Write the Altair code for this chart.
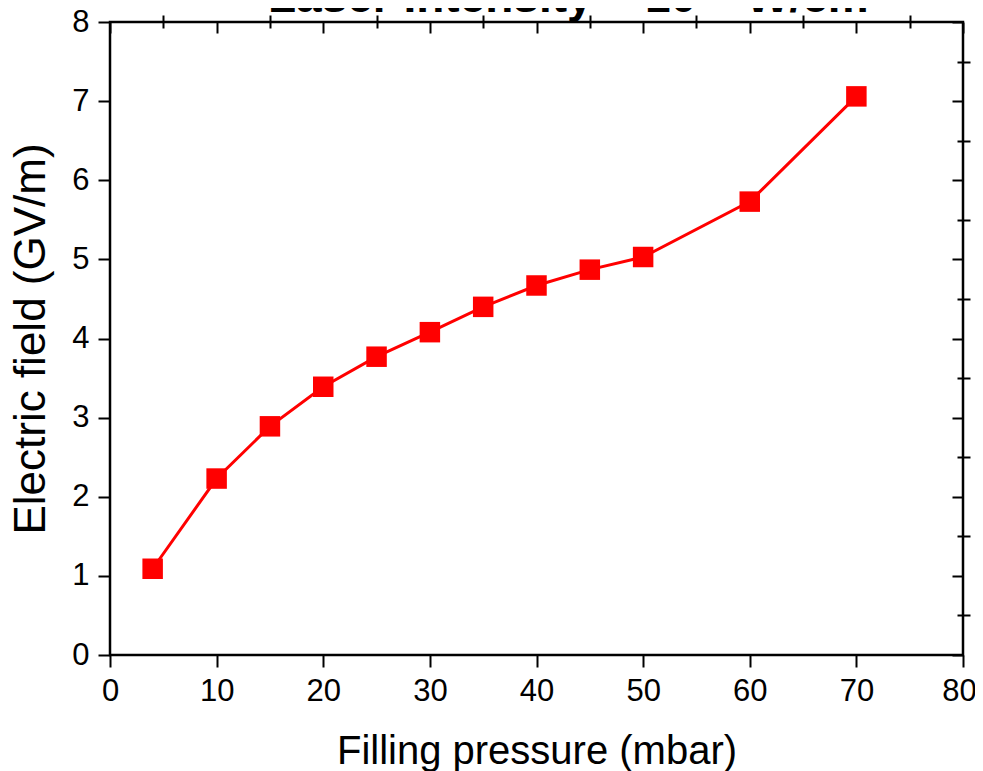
import altair as alt
import pandas as pd

pressure = [4, 10, 15, 20, 25, 30, 35, 40, 45, 50, 60, 70]
field = [1.09, 2.23, 2.89, 3.39, 3.77, 4.08, 4.40, 4.67, 4.87, 5.03, 5.73, 7.06]

x_major = [0, 10, 20, 30, 40, 50, 60, 70, 80]
x_minor = [5, 15, 25, 35, 45, 55, 65, 75]
y_major = [0, 1, 2, 3, 4, 5, 6, 7, 8]
y_minor = [0.5, 1.5, 2.5, 3.5, 4.5, 5.5, 6.5, 7.5]

title_text = "Laser Intensity ~ 10¹⁸ W/cm²"

df = pd.DataFrame({"p": pressure, "e": field})

FONT = "Liberation Sans"
W, H = 853, 633

xs = alt.Scale(domain=[0, 80], nice=False, zero=False)
ys = alt.Scale(domain=[0, 8], nice=False, zero=False)

def axis_kw(**kw):
    base = dict(domain=False, grid=False, tickColor="black", tickWidth=2,
                labelFont=FONT, titleFont=FONT, labelColor="black", titleColor="black",
                titleFontWeight="normal", labelFlush=False)
    base.update(kw)
    return base

line = alt.Chart(df).mark_line(color="#FF0000", strokeWidth=3).encode(
    x=alt.X("p:Q", scale=xs, axis=alt.Axis(**axis_kw(
        values=x_major, format="d", tickSize=12, labelFontSize=31, labelPadding=9,
        labelOffset=alt.condition("datum.value == 80", alt.value(-4), alt.value(0)),
        title="Filling pressure (mbar)", titleFontSize=40, titlePadding=25))),
    y=alt.Y("e:Q", scale=ys, axis=alt.Axis(**axis_kw(
        values=y_major, format="d", tickSize=12, labelFontSize=31, labelPadding=9,
        title="Electric field (GV/m)", titleFontSize=44, titlePadding=18))),
)

points = alt.Chart(df).mark_point(shape="square", filled=True, size=420,
                                  color="#FF0000", opacity=1).encode(
    x=alt.X("p:Q", scale=xs, axis=None),
    y=alt.Y("e:Q", scale=ys, axis=None),
)

minor_bl = alt.Chart(df).mark_point(opacity=0).encode(
    x=alt.X("p:Q", scale=xs, axis=alt.Axis(**axis_kw(values=x_minor, tickSize=7,
                                                      labels=False, title=None))),
    y=alt.Y("e:Q", scale=ys, axis=alt.Axis(**axis_kw(values=y_minor, tickSize=7,
                                                      labels=False, title=None))),
)

top_major = alt.Chart(df).mark_point(opacity=0).encode(
    x=alt.X("p:Q", scale=xs, axis=alt.Axis(**axis_kw(orient="top", values=x_major, tickSize=11,
                                                      offset=-11, labels=False, title=None))),
    y=alt.Y("e:Q", scale=ys, axis=alt.Axis(**axis_kw(orient="right", values=y_major, tickSize=11,
                                                      offset=-11, labels=False, title=None))),
)
top_minor = alt.Chart(df).mark_point(opacity=0).encode(
    x=alt.X("p:Q", scale=xs, axis=alt.Axis(**axis_kw(orient="top", values=x_minor, tickSize=6,
                                                      offset=-6, labels=False, title=None))),
    y=alt.Y("e:Q", scale=ys, axis=alt.Axis(**axis_kw(orient="right", values=y_minor, tickSize=6,
                                                      offset=-6, labels=False, title=None))),
)

title = alt.Chart(pd.DataFrame({"t": [title_text]})).mark_text(
    font=FONT, fontSize=46, fontWeight="bold", color="black",
    align="center", baseline="alphabetic"
).encode(text="t:N", x=alt.value(466), y=alt.value(-10))

chart = alt.layer(line, points, minor_bl, top_major, top_minor, title).resolve_axis(
    x="independent", y="independent"
).properties(
    width=W, height=H,
    autosize=alt.AutoSizeParams(type="none"),
    padding={"left": 102, "top": 14, "right": 12, "bottom": 116},
).configure_view(stroke="black", strokeWidth=2.5)

chart.save("out.html", embed_options={"renderer": "svg", "actions": False})
